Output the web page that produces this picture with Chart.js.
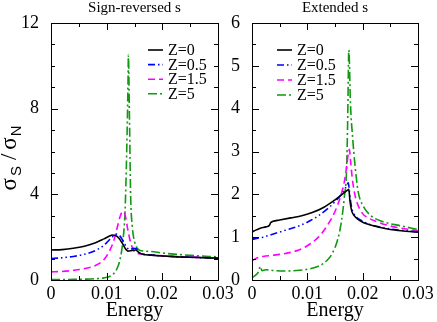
<!DOCTYPE html>
<html>
<head>
<meta charset="utf-8">
<script src="https://cdn.jsdelivr.net/npm/chart.js@4.4.1/dist/chart.umd.min.js"></script>
<style>
    html, body { margin: 0; padding: 0; background: #fff; }
    #wrap { position: relative; width: 437px; height: 322px; overflow: hidden; }
    canvas { position: absolute; top: 0; }
    #revChart { left: 0; }
    #extChart { left: 226px; }
</style>
</head>
<body>
<div id="wrap">
    <canvas id="revChart" width="240" height="322"></canvas>
    <canvas id="extChart" width="211" height="322"></canvas>
</div>
<script>
// ---- data ----
const zLabels = ["Z=0", "Z=0.5", "Z=1.5", "Z=5"];
const xTickValues = [0, 0.01, 0.02, 0.03];
const revYTicks = [0, 4, 8, 12];
const extYTicks = [0, 1, 2, 3, 4, 5, 6];

// Sign-reversed s
const revZ0E = [0, 0.002, 0.004, 0.006, 0.008, 0.0095, 0.0105, 0.011, 0.0116, 0.0122, 0.0128, 0.0134, 0.0138, 0.0146, 0.0152, 0.0158, 0.0165, 0.018, 0.02, 0.022, 0.025, 0.03];
const revZ0 = [1.40, 1.42, 1.48, 1.58, 1.74, 1.92, 2.05, 2.10, 2.08, 1.95, 1.72, 1.45, 1.35, 1.38, 1.40, 1.28, 1.20, 1.16, 1.12, 1.09, 1.06, 1.02];
const revZ05E = [0, 0.002, 0.004, 0.006, 0.008, 0.0095, 0.0105, 0.0112, 0.0118, 0.0124, 0.013, 0.0136, 0.0142, 0.0148, 0.0154, 0.016, 0.018, 0.02, 0.025, 0.03];
const revZ05 = [1.00, 1.04, 1.10, 1.20, 1.38, 1.62, 1.88, 2.05, 2.15, 2.05, 1.80, 1.52, 1.42, 1.48, 1.45, 1.25, 1.17, 1.12, 1.06, 1.02];
const revZ15E = [0, 0.002, 0.004, 0.006, 0.008, 0.0095, 0.0105, 0.0113, 0.0119, 0.0124, 0.0129, 0.0133, 0.0138, 0.0143, 0.0148, 0.0154, 0.016, 0.018, 0.02, 0.025, 0.03];
const revZ15 = [0.38, 0.40, 0.45, 0.53, 0.68, 0.95, 1.35, 1.85, 2.45, 2.95, 3.20, 3.05, 2.35, 1.75, 1.40, 1.25, 1.22, 1.17, 1.13, 1.07, 1.03];
const revZ5E = [0, 0.002, 0.004, 0.006, 0.008, 0.0095, 0.0108, 0.0112, 0.0118, 0.0124, 0.0129, 0.0133, 0.0136, 0.01385, 0.0139, 0.0141, 0.0143, 0.0146, 0.015, 0.0156, 0.016, 0.018, 0.02, 0.025, 0.03];
const revZ5 = [0.02, 0.02, 0.03, 0.04, 0.06, 0.10, 0.20, 0.28, 0.50, 0.95, 1.80, 3.20, 6.00, 9.50, 10.5, 7.50, 4.00, 2.50, 1.80, 1.45, 1.38, 1.33, 1.26, 1.15, 1.08];

// Extended s
const extZ0E = [0, 0.0008, 0.0015, 0.0025, 0.0031, 0.0034, 0.0038, 0.005, 0.007, 0.009, 0.011, 0.013, 0.015, 0.0165, 0.0172, 0.0175, 0.0177, 0.018, 0.0185, 0.019, 0.02, 0.021, 0.023, 0.025, 0.027, 0.03];
const extZ0 = [1.12, 1.17, 1.21, 1.24, 1.27, 1.34, 1.37, 1.40, 1.45, 1.50, 1.58, 1.70, 1.87, 2.02, 2.09, 2.12, 1.85, 1.62, 1.50, 1.43, 1.35, 1.30, 1.23, 1.18, 1.15, 1.12];
const extZ05E = [0, 0.002, 0.004, 0.006, 0.008, 0.01, 0.012, 0.014, 0.0155, 0.0165, 0.0171, 0.0174, 0.0177, 0.018, 0.0185, 0.019, 0.02, 0.021, 0.023, 0.025, 0.027, 0.03];
const extZ05 = [0.95, 1.00, 1.08, 1.16, 1.24, 1.35, 1.50, 1.70, 1.90, 2.06, 2.20, 2.27, 1.95, 1.70, 1.52, 1.45, 1.37, 1.31, 1.24, 1.19, 1.16, 1.12];
const extZ15E = [0, 0.001, 0.002, 0.004, 0.006, 0.008, 0.01, 0.012, 0.0135, 0.015, 0.016, 0.0167, 0.0171, 0.0174, 0.0176, 0.0178, 0.0181, 0.0185, 0.019, 0.02, 0.021, 0.023, 0.025, 0.027, 0.03];
const extZ15 = [0.45, 0.52, 0.55, 0.58, 0.62, 0.68, 0.80, 1.00, 1.25, 1.60, 1.95, 2.30, 2.65, 2.95, 3.05, 2.80, 2.40, 2.05, 1.80, 1.55, 1.45, 1.34, 1.26, 1.21, 1.15];
const extZ5E = [0, 0.0007, 0.0012, 0.0015, 0.0018, 0.0025, 0.004, 0.006, 0.008, 0.01, 0.012, 0.0135, 0.0145, 0.0155, 0.0162, 0.0167, 0.0171, 0.0173, 0.0175, 0.0178, 0.0182, 0.0186, 0.0192, 0.02, 0.0213, 0.0237, 0.0267, 0.03];
const extZ5 = [0.05, 0.12, 0.20, 0.32, 0.22, 0.24, 0.22, 0.21, 0.22, 0.25, 0.32, 0.45, 0.62, 0.95, 1.40, 1.95, 2.60, 3.80, 5.37, 4.10, 3.30, 2.70, 2.05, 1.75, 1.52, 1.36, 1.27, 1.18];

// ---- styles ----
const SERIF = "'Liberation Serif', 'Times New Roman', serif";
const SANS = "'Liberation Sans', Arial, sans-serif";
const lineColors = ["#000000", "#0000ff", "#ff00ff", "#119911"];
const lineDashes = [[], [7, 3, 1.5, 3, 1.5, 3], [7, 4], [9, 3, 2, 3]];

function points(xs, ys) {
    return xs.map((x, i) => ({ x: x, y: ys[i] }));
}

function makeDatasets(series) {
    return series.map((s, i) => ({
        label: zLabels[i],
        data: points(s[0], s[1]),
        borderColor: lineColors[i],
        borderWidth: 1.6,
        borderDash: lineDashes[i],
        pointRadius: 0,
        fill: false,
        cubicInterpolationMode: "monotone"
    }));
}

function formatEnergy(v) {
    return v === 0 ? "0" : v.toFixed(2);
}

// frame, inward ticks on all sides, titles and legend
const decorations = {
    id: "decorations",
    afterDatasetsDraw(chart, args, opts) {
        const { ctx, chartArea: a, scales } = chart;
        const xs = scales.x, ys = scales.y;
        ctx.save();
        ctx.strokeStyle = "#000";
        ctx.lineWidth = 1;

        const nx = Math.round((xs.max - xs.min) / opts.xMinor);
        for (let i = 0; i <= nx; i++) {
            const px = Math.round(xs.getPixelForValue(xs.min + i * opts.xMinor)) + 0.5;
            const len = i % opts.xEvery === 0 ? 7 : 4;
            ctx.beginPath();
            ctx.moveTo(px, a.bottom); ctx.lineTo(px, a.bottom - len);
            ctx.moveTo(px, a.top); ctx.lineTo(px, a.top + len);
            ctx.stroke();
        }
        const ny = Math.round((ys.max - ys.min) / opts.yMinor);
        for (let i = 0; i <= ny; i++) {
            const py = Math.round(ys.getPixelForValue(ys.min + i * opts.yMinor)) + 0.5;
            const len = i % opts.yEvery === 0 ? 7 : 4;
            ctx.beginPath();
            ctx.moveTo(a.left, py); ctx.lineTo(a.left + len, py);
            ctx.moveTo(a.right, py); ctx.lineTo(a.right - len, py);
            ctx.stroke();
        }
        ctx.strokeRect(Math.round(a.left) + 0.5, Math.round(a.top) + 0.5,
            Math.round(a.right - a.left), Math.round(a.bottom - a.top));

        // panel title and x title
        ctx.fillStyle = "#000";
        ctx.textAlign = "center";
        ctx.textBaseline = "alphabetic";
        ctx.font = "15px " + SERIF;
        ctx.fillText(opts.title, (a.left + a.right) / 2, 12);
        ctx.font = "20px " + SERIF;
        ctx.fillText("Energy", (a.left + a.right) / 2, 316);

        // legend
        ctx.textAlign = "left";
        ctx.textBaseline = "middle";
        ctx.font = "16px " + SERIF;
        chart.data.datasets.forEach((ds, i) => {
            const ly = opts.legendY + i * opts.legendStep;
            const lx = a.left + opts.legendX;
            ctx.save();
            ctx.strokeStyle = ds.borderColor;
            ctx.lineWidth = 1.6;
            ctx.setLineDash(ds.borderDash);
            ctx.beginPath();
            ctx.moveTo(lx, ly); ctx.lineTo(lx + 15, ly);
            ctx.stroke();
            ctx.restore();
            ctx.fillText(ds.label, lx + 20, ly + 1);
        });

        // y title  sigma_S / sigma_N  (text, font, baseline shift, gap before)
        if (opts.yTitle) {
            ctx.save();
            ctx.translate(16, 158);
            ctx.rotate(-Math.PI / 2);
            ctx.textBaseline = "alphabetic";
            const big = "23px " + SERIF, small = "15px " + SANS;
            const parts = [["σ", big, 0, 0], ["S", small, 5, 2], ["/", big, 0, 6], ["σ", big, 0, 4], ["N", small, 5, 1]];
            let w = 0;
            parts.forEach(p => { ctx.font = p[1]; w += p[3] + ctx.measureText(p[0]).width; });
            let cx = -w / 2;
            parts.forEach(p => {
                ctx.font = p[1];
                cx += p[3];
                ctx.fillText(p[0], cx, p[2]);
                cx += ctx.measureText(p[0]).width;
            });
            ctx.restore();
        }
        ctx.restore();
    }
};

function makePanel(canvasId, series, yMax, yTicks, yAxisWidth, rightPad, deco) {
    return new Chart(document.getElementById(canvasId), {
        type: "line",
        data: { datasets: makeDatasets(series) },
        options: {
            responsive: false,
            animation: false,
            layout: { padding: { top: 23, right: rightPad, left: 0, bottom: 0 } },
            plugins: {
                legend: { display: false },
                tooltip: { enabled: false },
                decorations: deco
            },
            scales: {
                x: {
                    type: "linear",
                    min: 0,
                    max: 0.03,
                    grid: { display: false },
                    border: { display: false },
                    afterBuildTicks: s => { s.ticks = xTickValues.map(v => ({ value: v })); },
                    afterFit: s => { s.height = 42; },
                    ticks: {
                        color: "#000",
                        font: { family: SERIF, size: 18 },
                        padding: -5,
                        maxRotation: 0,
                        autoSkip: false,
                        callback: v => formatEnergy(v)
                    }
                },
                y: {
                    min: 0,
                    max: yMax,
                    grid: { display: false },
                    border: { display: false },
                    afterBuildTicks: s => { s.ticks = yTicks.map(v => ({ value: v })); },
                    afterFit: s => { s.width = yAxisWidth; },
                    ticks: {
                        color: "#000",
                        font: { family: SERIF, size: 18 },
                        padding: 4,
                        callback: v => String(v)
                    }
                }
            }
        },
        plugins: [decorations]
    });
}

makePanel("revChart",
    [[revZ0E, revZ0], [revZ05E, revZ05], [revZ15E, revZ15], [revZ5E, revZ5]],
    12, revYTicks, 51, 22,
    { title: "Sign-reversed s", xMinor: 0.005, xEvery: 2, yMinor: 1, yEvery: 4,
      legendX: 97, legendY: 50, legendStep: 14.6, yTitle: true });

makePanel("extChart",
    [[extZ0E, extZ0], [extZ05E, extZ05], [extZ15E, extZ15], [extZ5E, extZ5]],
    6, extYTicks, 26, 19,
    { title: "Extended s", xMinor: 0.005, xEvery: 2, yMinor: 0.5, yEvery: 2,
      legendX: 25, legendY: 50, legendStep: 15, yTitle: false });
</script>
</body>
</html>
